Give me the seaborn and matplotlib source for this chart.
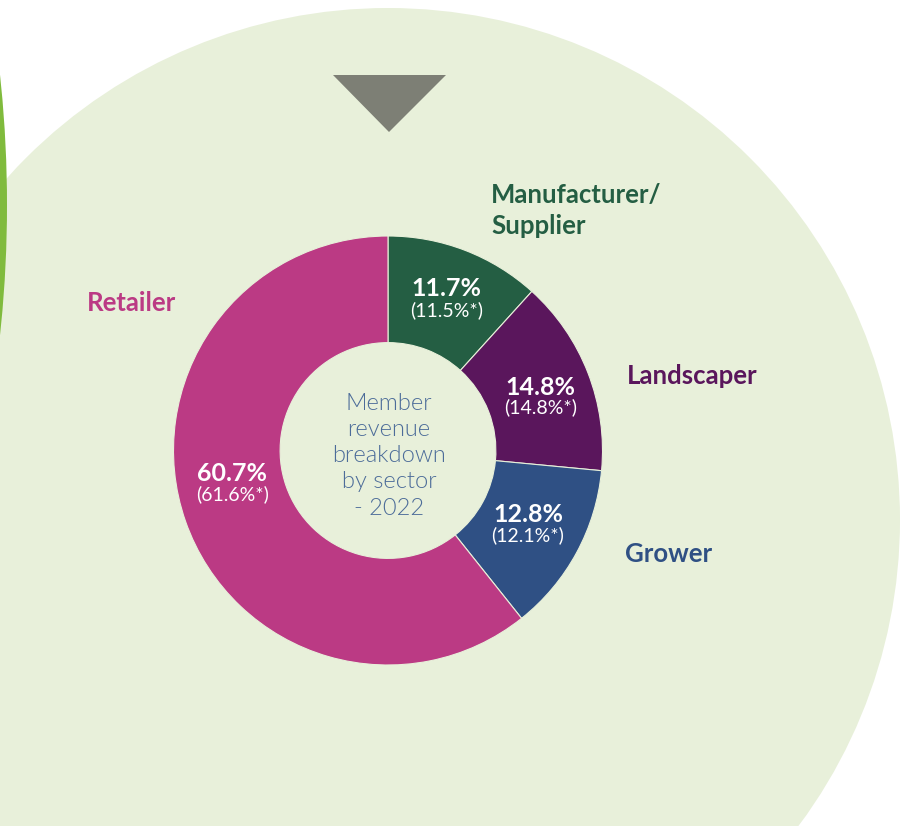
import matplotlib
matplotlib.use("Agg")
import matplotlib.pyplot as plt
from matplotlib.patches import Circle, Polygon
import seaborn as sns

# ---- data ----
sectors = ["Manufacturer/\nSupplier", "Landscaper", "Grower", "Retailer"]
shares_2022 = [11.7, 14.8, 12.8, 60.7]
shares_prev = [11.5, 14.8, 12.1, 61.6]
sector_colors = ["#245E43", "#5A165C", "#2F5084", "#BB3A84"]
center_title = ["Member", "revenue", "breakdown", "by sector", "- 2022"]

sns.set_theme(style="white")
plt.rcParams["font.family"] = ["Lato", "DejaVu Sans"]

W, H = 907, 826
fig = plt.figure(figsize=(W / 100, H / 100), dpi=100)
fig.patch.set_facecolor("white")
ax = fig.add_axes([0, 0, 1, 1])

def Y(y):
    return H - y

BG = "#E8F0DA"

# large pale green circle
ax.add_patch(Circle((388, Y(520)), 512, facecolor=BG, edgecolor="none", zorder=0))
# bright green arc at left edge
ax.add_patch(Circle((7.0 - 1219, Y(205)), 1219, facecolor="#80BB3D", edgecolor="none", zorder=1))
# grey triangle
ax.add_patch(Polygon([(333, Y(75)), (446, Y(75)), (389, Y(132))], closed=True,
                     facecolor="#7D7F75", edgecolor="none", zorder=2))

cx, cy, R = 388, Y(450.5), 214.5
wedges, _ = ax.pie(shares_2022, colors=sector_colors, startangle=90, counterclock=False,
                   radius=R, center=(cx, cy),
                   wedgeprops=dict(width=R * 0.497, edgecolor=BG, linewidth=0.8))
for w in wedges:
    w.set_zorder(3)

ax.set_xlim(0, W)
ax.set_ylim(0, H)
ax.set_aspect("equal")
ax.axis("off")

# sector labels
lab_fs = 18.5
lab_kw = dict(fontsize=lab_fs, fontweight="bold", ha="left", va="baseline", zorder=5)
man_lines = sectors[0].split("\n")
ax.text(491, Y(203), man_lines[0], color=sector_colors[0], **lab_kw)
ax.text(491, Y(233.5), man_lines[1], color=sector_colors[0], **lab_kw)
ax.text(626.5, Y(384.5), sectors[1], color=sector_colors[1], **lab_kw)
ax.text(625.5, Y(562), sectors[2], color=sector_colors[2], **lab_kw)
ax.text(87, Y(311), sectors[3], color=sector_colors[3], **lab_kw)

# value labels inside wedges
val_pos = [(446.5, 296.5, 316.5), (540.5, 395, 413.5), (528, 521.7, 541.5), (232.5, 481, 500)]
for v, p, (x, yb1, yb2) in zip(shares_2022, shares_prev, val_pos):
    ax.text(x, Y(yb1), f"{v:.1f}%", color="white", fontsize=18, fontweight="bold",
            ha="center", va="baseline", zorder=5)
    ax.text(x, Y(yb2), f"({p:.1f}%*)", color="white", fontsize=14, fontweight="normal",
            ha="center", va="baseline", zorder=5)

# centre title
baselines = [409.5, 436, 462, 488, 515]
for line, yb in zip(center_title, baselines):
    ax.text(389, Y(yb), line, color="#4C6C99", fontsize=17, fontweight=300,
            ha="center", va="baseline", zorder=5)

fig.savefig("out.png", dpi=100, facecolor="white")
